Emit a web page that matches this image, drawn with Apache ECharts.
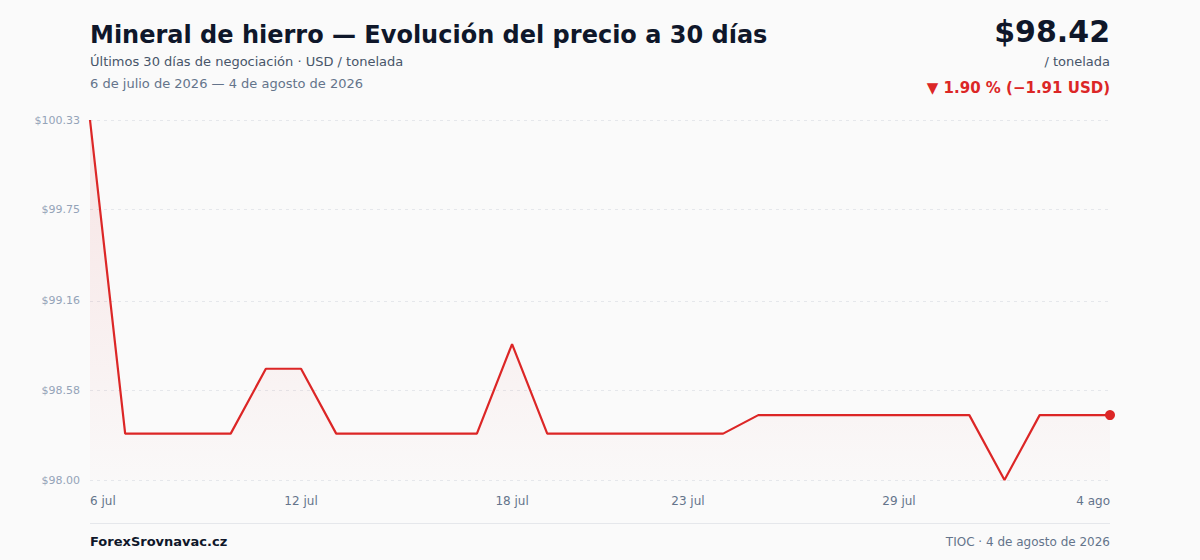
<!DOCTYPE html>
<html>
<head>
<meta charset="utf-8">
<script src="https://cdn.jsdelivr.net/npm/echarts@6/dist/echarts.min.js"></script>
<style>
html,body{margin:0;padding:0;background:#fafafa;}
#chart{width:1200px;height:560px;}
</style>
</head>
<body>
<div id="chart"></div>
<script>
const dates = ['6 jul','7 jul','8 jul','9 jul','10 jul','11 jul','12 jul','13 jul','14 jul','15 jul',
  '16 jul','17 jul','18 jul','19 jul','20 jul','21 jul','22 jul','23 jul','24 jul','25 jul',
  '26 jul','27 jul','28 jul','29 jul','30 jul','31 jul','1 ago','2 ago','3 ago','4 ago'];
const prices = [100.33, 98.30, 98.30, 98.30, 98.30, 98.72, 98.72, 98.30, 98.30, 98.30,
  98.30, 98.30, 98.88, 98.30, 98.30, 98.30, 98.30, 98.30, 98.30, 98.42,
  98.42, 98.42, 98.42, 98.42, 98.42, 98.42, 98.00, 98.42, 98.42, 98.42];
const yTicks = [98.00, 98.58, 99.16, 99.75, 100.33];
const xLabelIdx = [0, 6, 12, 17, 23, 29];
const titleText = 'Mineral de hierro — Evolución del precio a 30 días';
const subtitleText = 'Últimos 30 días de negociación · USD / tonelada';
const rangeText = '6 de julio de 2026 — 4 de agosto de 2026';
const priceText = '$98.42';
const unitText = '/ tonelada';
const changeText = '▼ 1.90 % (−1.91 USD)';
const sourceText = 'ForexSrovnavac.cz';
const noteText = 'TIOC · 4 de agosto de 2026';

const FONT = 'DejaVu Sans';
const chart = echarts.init(document.getElementById('chart'), null, {renderer: 'svg'});
const lastIdx = prices.length - 1;
chart.setOption({
  backgroundColor: '#fafafa',
  animation: false,
  textStyle: {fontFamily: FONT},
  grid: {left: 90, right: 90, top: 120, bottom: 80, containLabel: false},
  xAxis: {
    type: 'category',
    data: dates,
    boundaryGap: false,
    axisLine: {show: false},
    axisTick: {show: false},
    splitLine: {show: false},
    axisLabel: {
      interval: function (i) { return xLabelIdx.indexOf(i) >= 0; },
      color: '#64748b', fontSize: 12, fontFamily: FONT, margin: 15,
      alignMinLabel: 'left', alignMaxLabel: 'right'
    }
  },
  yAxis: {
    type: 'value',
    min: yTicks[0],
    max: yTicks[yTicks.length - 1],
    axisLine: {show: false},
    axisTick: {show: false, customValues: yTicks},
    axisLabel: {
      customValues: yTicks,
      formatter: function (v) { return '$' + v.toFixed(2); },
      color: '#94a3b8', fontSize: 11, fontFamily: FONT, margin: 10
    },
    splitLine: {show: true, lineStyle: {color: '#e5e7eb', type: [3, 4], width: 1}}
  },
  series: [{
    type: 'line',
    data: prices,
    showSymbol: true,
    showAllSymbol: true,
    symbol: 'circle',
    symbolSize: function (v, p) { return p.dataIndex === lastIdx ? 10 : 0; },
    itemStyle: {color: '#dc2626'},
    lineStyle: {color: '#dc2626', width: 2.2},
    areaStyle: {
      color: new echarts.graphic.LinearGradient(0, 0, 0, 1, [
        {offset: 0, color: 'rgba(220,38,38,0.15)'},
        {offset: 1, color: 'rgba(220,38,38,0.01)'}
      ])
    },
    emphasis: {disabled: true}
  }],
  graphic: [
    {type: 'text', left: 90, top: 23, style: {text: titleText, fontSize: 24, fontWeight: 'bold', fill: '#0f172a', fontFamily: FONT}},
    {type: 'text', left: 90, top: 55, style: {text: subtitleText, fontSize: 13, fill: '#475569', fontFamily: FONT}},
    {type: 'text', left: 90, top: 77, style: {text: rangeText, fontSize: 13, fill: '#64748b', fontFamily: FONT}},
    {type: 'text', right: 90, top: 16, style: {text: priceText, fontSize: 30, fontWeight: 'bold', fill: '#0f172a', fontFamily: FONT}},
    {type: 'text', right: 90, top: 55, style: {text: unitText, fontSize: 13, fill: '#475569', fontFamily: FONT}},
    {type: 'text', right: 90, top: 80, style: {text: changeText, fontSize: 15, fontWeight: 'bold', fill: '#dc2626', fontFamily: FONT}},
    {type: 'rect', left: 90, top: 523, shape: {width: 1020, height: 1}, style: {fill: '#e5e7eb'}},
    {type: 'text', left: 90, top: 535, style: {text: sourceText, fontSize: 13, fontWeight: 'bold', fill: '#0f172a', fontFamily: FONT}},
    {type: 'text', right: 90, top: 536, style: {text: noteText, fontSize: 12, fill: '#64748b', fontFamily: FONT}}
  ]
});
</script>
</body>
</html>
